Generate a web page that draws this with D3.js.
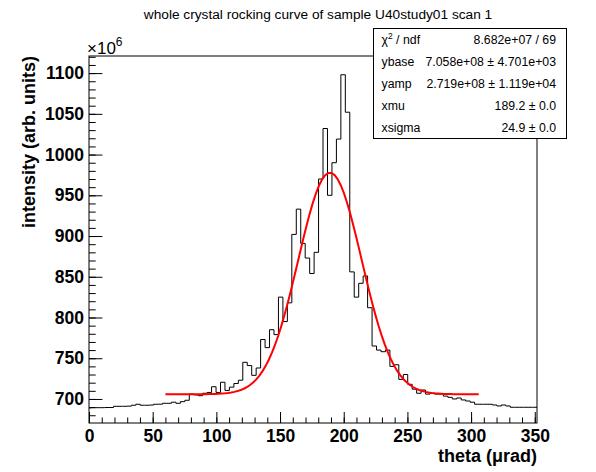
<!DOCTYPE html>
<html>
<head>
<meta charset="utf-8">
<script src="https://cdn.jsdelivr.net/npm/d3@7/dist/d3.min.js"></script>
<style>
    body { margin: 0; background: #fff; }
    svg text { font-family: 'Liberation Sans', Arial, Helvetica, sans-serif; }
</style>
</head>
<body>
<script>
'use strict';

// scan step (urad) - bins are centred on 0, 3.5, 7, ...
var thetaStep = 3.5;
var thetaMax = 351.75;

// intensity per bin, units of 1e6
var counts = [
    689.0, 689.3, 689.3, 689.3, 689.5, 689.5, 691.0, 691.0, 691.0, 691.2,
    692.3, 693.5, 692.3, 692.3, 692.5, 693.5, 693.6, 694.7, 694.7, 696.0,
    694.7, 696.7, 698.4, 706.0, 705.0, 704.0, 707.0, 708.0, 715.0, 708.0,
    720.5, 710.5, 714.5, 719.0, 723.0, 745.0, 741.0, 729.0, 738.0, 773.0,
    763.0, 785.0, 779.0, 825.0, 795.0, 818.0, 902.0, 933.0, 891.0, 873.0,
    854.0, 880.0, 970.0, 1032.0, 950.0, 990.0, 1019.0, 1098.0, 1052.0, 856.0,
    825.0, 842.0, 851.0, 812.0, 765.0, 760.0, 758.0, 760.0, 740.0, 742.0,
    724.0, 730.0, 718.0, 712.0, 707.0, 711.0, 706.0, 707.0, 706.0, 706.0,
    703.5, 702.0, 700.0, 701.2, 698.8, 697.5, 696.0, 693.5, 693.5, 693.5,
    693.5, 692.6, 691.4, 692.6, 691.4, 689.8, 689.8, 689.8, 689.8, 689.8,
    689.8
];

var xTicks = [0, 50, 100, 150, 200, 250, 300, 350];
var yTicks = [700, 750, 800, 850, 900, 950, 1000, 1050, 1100];

// gaussian fit (from stats box), range of the fit
var fitRange = [60, 306];
var ybase = 705.8, yamp = 271.9, xmu = 189.2, xsigma = 24.9;

var statLabels = ['ndf', 'ybase', 'yamp', 'xmu', 'xsigma'];
var statValues = ['8.682e+07 / 69', '7.058e+08 \u00b1 4.701e+03', '2.719e+08 \u00b1 1.119e+04',
    '189.2 \u00b1 0.0', '24.9 \u00b1 0.0'];

var W = 596, H = 472;
var frame = {left: 89, right: 537, top: 56, bottom: 423};

var svg = d3.select('body').append('svg')
    .attr('width', W)
    .attr('height', H);

var x = d3.scaleLinear().domain([0, thetaMax]).range([frame.left, frame.right]);
var y = d3.scaleLinear().domain([670.5, 1121]).range([frame.bottom, frame.top]);

// title
svg.append('text')
    .attr('x', 318)
    .attr('y', 19)
    .attr('text-anchor', 'middle')
    .style('font-size', '13.7px')
    .text('whole crystal rocking curve of sample U40study01 scan 1');

// frame
svg.append('rect')
    .attr('x', frame.left)
    .attr('y', frame.top)
    .attr('width', frame.right - frame.left)
    .attr('height', frame.bottom - frame.top)
    .attr('fill', 'none')
    .attr('stroke', '#000')
    .attr('stroke-width', 1);

// histogram outline
var path = d3.path();
counts.forEach(function (c, k) {
    var x0 = Math.max(0, k * thetaStep - thetaStep / 2);
    var x1 = Math.min(thetaMax, k * thetaStep + thetaStep / 2);
    if (k === 0) {
        path.moveTo(x(x0), y(c));
    } else {
        path.lineTo(x(x0), y(c));
    }
    path.lineTo(x(x1), y(c));
});
svg.append('path')
    .attr('d', path.toString())
    .attr('fill', 'none')
    .attr('stroke', '#000')
    .attr('stroke-width', 1);

// fit curve
var fitPts = d3.range(0, 101).map(function (i) {
    var t = fitRange[0] + (fitRange[1] - fitRange[0]) * i / 100;
    return [t, ybase + yamp * Math.exp(-0.5 * Math.pow((t - xmu) / xsigma, 2))];
});
svg.append('path')
    .datum(fitPts)
    .attr('d', d3.line().x(function (d) { return x(d[0]); }).y(function (d) { return y(d[1]); }))
    .attr('fill', 'none')
    .attr('stroke', '#ff0000')
    .attr('stroke-width', 2);

// x axis
var xMinor = d3.range(0, 351, 10);
svg.append('g')
    .attr('transform', 'translate(0,' + frame.bottom + ')')
    .call(d3.axisBottom(x).tickValues(xMinor).tickSizeInner(-5.5).tickSizeOuter(0).tickFormat(''))
    .call(function (g) { g.select('.domain').remove(); });
var gx = svg.append('g')
    .attr('transform', 'translate(0,' + frame.bottom + ')')
    .call(d3.axisBottom(x).tickValues(xTicks).tickSizeInner(-11).tickSizeOuter(0)
        .tickPadding(7).tickFormat(d3.format('d')));
gx.select('.domain').remove();
gx.selectAll('text')
    .style('font-size', '17.5px')
    .style('font-weight', 'bold')
    .attr('fill', '#000');

// y axis
var yMinor = d3.range(680, 1121, 10);
svg.append('g')
    .attr('transform', 'translate(' + frame.left + ',0)')
    .call(d3.axisLeft(y).tickValues(yMinor).tickSizeInner(-6.7).tickSizeOuter(0).tickFormat(''))
    .call(function (g) { g.select('.domain').remove(); });
var gy = svg.append('g')
    .attr('transform', 'translate(' + frame.left + ',0)')
    .call(d3.axisLeft(y).tickValues(yTicks).tickSizeInner(-13.4).tickSizeOuter(0)
        .tickPadding(5).tickFormat(d3.format('d')));
gy.select('.domain').remove();
gy.selectAll('text')
    .style('font-size', '17.5px')
    .style('font-weight', 'bold')
    .attr('fill', '#000');
svg.selectAll('.tick line').attr('stroke', '#000');

// x10^6 exponent
var ex = svg.append('text')
    .attr('x', 87)
    .attr('y', 54)
    .style('font-size', '17px');
ex.append('tspan').text('\u00d710');
ex.append('tspan').attr('dy', -8).style('font-size', '12px').text('6');

// axis titles
svg.append('text')
    .attr('x', frame.right)
    .attr('y', 462)
    .attr('text-anchor', 'end')
    .style('font-size', '18px')
    .style('font-weight', 'bold')
    .text('theta (\u03bcrad)');

svg.append('text')
    .attr('transform', 'translate(35,' + frame.top + ') rotate(-90)')
    .attr('text-anchor', 'end')
    .style('font-size', '18px')
    .style('font-weight', 'bold')
    .text('intensity (arb. units)');

// stats box
var box = {x: 373.5, y: 28.5, w: 193, h: 110};
svg.append('rect')
    .attr('x', box.x)
    .attr('y', box.y)
    .attr('width', box.w)
    .attr('height', box.h)
    .attr('fill', '#fff')
    .attr('stroke', '#000')
    .attr('stroke-width', 1);

var rows = svg.append('g').selectAll('g')
    .data(statLabels)
    .enter().append('g')
    .attr('transform', function (d, i) { return 'translate(0,' + (box.y + 11.5 + 21.8 * i + 4.3) + ')'; });

rows.append('text')
    .attr('x', 381.5)
    .style('font-size', '12.3px')
    .each(function (d, i) {
        var t = d3.select(this);
        if (i === 0) {
            t.append('tspan').text('\u03c7');
            t.append('tspan').attr('dy', -5).style('font-size', '8.5px').text('2');
            t.append('tspan').attr('dy', 5).text(' / ndf');
        } else {
            t.text(d);
        }
    });

rows.append('text')
    .attr('x', 556)
    .attr('text-anchor', 'end')
    .style('font-size', '12.3px')
    .text(function (d, i) { return statValues[i]; });
</script>
</body>
</html>
